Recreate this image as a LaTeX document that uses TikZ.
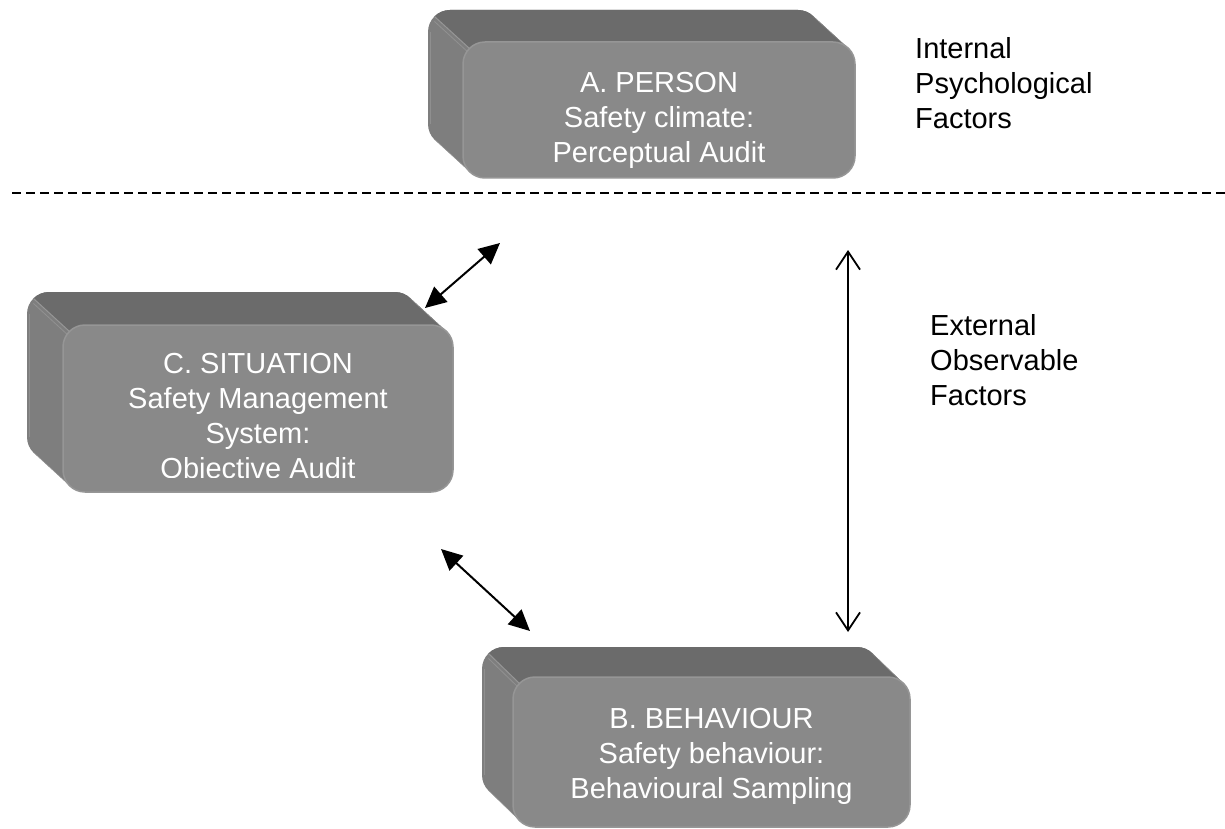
\documentclass[tikz,border=0pt]{standalone}
\usepackage{fontspec}
\setmainfont{Liberation Sans}
\usetikzlibrary{arrows.meta}

\definecolor{facegray}{HTML}{898989}
\definecolor{topgray}{HTML}{6B6B6B}
\definecolor{sidegray}{HTML}{7E7E7E}
\definecolor{bevelgray}{HTML}{969696}

% Extruded body of a rounded slab: #1,#2 centre of the front face,
% #3,#4 its width and height, #5,#6 offset of the back face.
\newcommand{\slabbody}[6]{%
  \pgfmathsetmacro\slabxa{#1-#3/2}\pgfmathsetmacro\slabxb{#1+#3/2}%
  \pgfmathsetmacro\slabya{#2-#4/2}\pgfmathsetmacro\slabyb{#2+#4/2}%
  \pgfmathsetmacro\slabin{0.293*22}%
  \fill[sidegray, rounded corners=22pt]
    \foreach \k in {0,...,24}{ ({\slabxa+\k/24*#5},{\slabya+\k/24*#6}) rectangle ({\slabxb+\k/24*#5},{\slabyb+\k/24*#6}) };
  \begin{scope}
    \clip[rounded corners=22pt]
      \foreach \k in {0,...,24}{ ({\slabxa+\k/24*#5},{\slabya+\k/24*#6}) rectangle ({\slabxb+\k/24*#5},{\slabyb+\k/24*#6}) };
    % top face
    \fill[topgray] ({\slabxa+\slabin+#5},{\slabya+\slabin+#6}) -- ({\slabxa+\slabin},{\slabya+\slabin}) -- ({\slabxb+60},{\slabyb})
      -- ({\slabxb+60},{\slabya+#6-10}) -- ({\slabxa+\slabin+#5},{\slabya+#6-10}) -- cycle;
    % bevel edges on the left face
    \draw[bevelgray, line width=1pt] ({\slabxa+\slabin+#5},{\slabya+\slabin+#6}) -- ({\slabxa+\slabin},{\slabya+\slabin});
    \draw[bevelgray!80!sidegray, line width=0.8pt] ({\slabxa+\slabin+#5},{\slabya+\slabin+#6+5}) -- ({\slabxa+\slabin},{\slabya+\slabin+5});
    \draw[bevelgray, line width=1pt] ({\slabxa+\slabin+#5},{\slabyb-\slabin+#6}) -- ({\slabxa+\slabin},{\slabyb-\slabin});
    \draw[bevelgray!70!sidegray, line width=1pt] ({\slabxa+#5+2},{\slabya+#6+22}) -- ({\slabxa+#5+2},{\slabyb+#6-22});
    \draw[bevelgray!80!topgray, line width=1pt] ({\slabxb-\slabin+#5},{\slabya+\slabin+#6}) -- ({\slabxb-\slabin},{\slabya+\slabin});
  \end{scope}
}

\tikzset{
  face/.style={fill=facegray, draw=bevelgray, line width=1.5pt, rounded corners=22pt,
    inner sep=0pt, text=white, align=center, font=\fontsize{29}{35}\selectfont},
  facetext/.style={text=white, align=center, inner sep=0pt, font=\fontsize{29}{35}\selectfont},
  sidelabel/.style={text=black, align=left, inner sep=0pt, anchor=north west,
    font=\fontsize{29}{35}\selectfont},
  dblarrow/.style={line width=2pt,
    arrows={Triangle[length=21pt,width=20pt]-Triangle[length=21pt,width=20pt]}},
  openarrow/.style={line width=1.8pt,
    arrows={Straight Barb[length=18pt,width=24pt]-Straight Barb[length=18pt,width=24pt]}},
  divider/.style={line width=2pt, dash pattern=on 9pt off 5pt}
}

\begin{document}
\begin{tikzpicture}[x=1pt,y=-1pt]
  \useasboundingbox (0,0) rectangle (1225,829);
  \fill[white] (0,0) rectangle (1225,829);

  % A. PERSON
  \slabbody{659}{110}{392}{136}{-35}{-32}
  \node[face, minimum width=392pt, minimum height=136pt] (A) at (659,110) {};
  \node[facetext] (Atext) at (659,120) {A. PERSON\\Safety climate:\\Perceptual Audit};

  % C. SITUATION
  \slabbody{258}{408.5}{390}{167}{-36}{-33}
  \node[face, minimum width=390pt, minimum height=167pt] (C) at (258,408.5) {};
  \begin{scope}
    \clip (0,0) rectangle (1225,477);
    \node[facetext] (Ctext) at (258,419) {C. SITUATION\\Safety Management\\System:\\Objective Audit};
  \end{scope}

  % B. BEHAVIOUR
  \slabbody{711.5}{752}{397}{150}{-31}{-30}
  \node[face, minimum width=397pt, minimum height=150pt] (B) at (711.5,752) {};
  \node[facetext] (Btext) at (711.5,756) {B. BEHAVIOUR\\Safety behaviour:\\Behavioural Sampling};

  % dividing line between internal and external factors
  \coordinate (divL) at (12,193);
  \coordinate (divR) at (1225,193);
  \draw[divider] (divL) -- (divR);

  % side labels
  \node[sidelabel] (internal) at (915,37) {Internal\\Psychological\\Factors};
  \node[sidelabel] (external) at (930,314) {External\\Observable\\Factors};

  % connectors
  \coordinate (ac1) at (500,243);
  \coordinate (ac2) at (425,308);
  \draw[dblarrow] (ac1) -- (ac2);

  \coordinate (cb1) at (441,549);
  \coordinate (cb2) at (530,631);
  \draw[dblarrow] (cb1) -- (cb2);

  \coordinate (ab1) at (848,250);
  \coordinate (ab2) at (848,632);
  \draw[openarrow] (ab1) -- (ab2);
\end{tikzpicture}
\end{document}
